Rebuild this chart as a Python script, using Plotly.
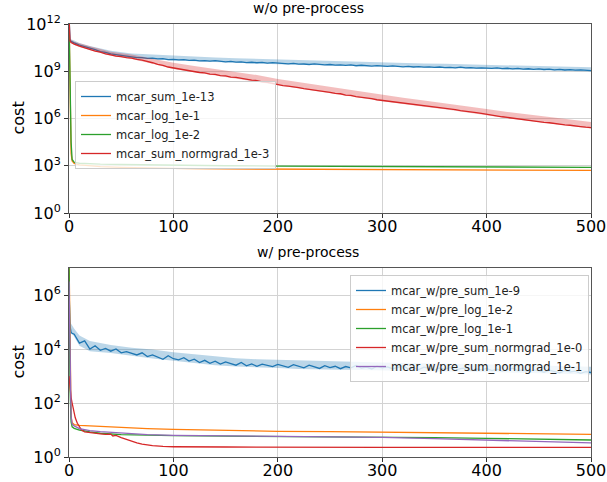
import plotly.graph_objects as go

# ---------------- data (log10 of cost) ----------------
# iterations for the dense, noisy runs
iters = [0, 1, 2, 3] + list(range(5, 501, 5))
# iterations where the mean +/- std bands are stored
band_iters = [0, 1, 5, 10] + list(range(20, 501, 20))
# iterations for the smooth runs
smooth_iters = [0, 1, 2, 3, 5, 10, 20, 30, 50, 75, 100, 150, 200, 250, 300, 350, 400, 450, 500]

# --- w/o pre-process ---
wo_sum_1e13 = [12.5, 10.95, 10.9, 10.86,
               10.80, 10.66, 10.58, 10.47, 10.38, 10.25, 10.2, 10.1, 10.06, 9.98, 9.95, 9.9, 9.86, 9.87, 9.82, 9.83, 9.78, 9.8, 9.74, 9.76,
               9.72, 9.74, 9.69, 9.71, 9.66, 9.68, 9.64, 9.67, 9.62, 9.6, 9.63, 9.58, 9.6, 9.55, 9.57, 9.54, 9.56, 9.52, 9.55, 9.51,
               9.5, 9.47, 9.5, 9.45, 9.46, 9.43, 9.47, 9.42, 9.4, 9.43, 9.39, 9.41, 9.37, 9.4, 9.35, 9.38, 9.36, 9.33, 9.36, 9.33,
               9.31, 9.34, 9.3, 9.28, 9.31, 9.27, 9.3, 9.26, 9.28, 9.24, 9.27, 9.23, 9.25, 9.22, 9.26, 9.21, 9.23, 9.2, 9.22, 9.2,
               9.18, 9.21, 9.17, 9.19, 9.15, 9.18, 9.14, 9.16, 9.12, 9.15, 9.11, 9.14, 9.09, 9.12, 9.08, 9.1, 9.07, 9.09, 9.05, 9.04]
wo_sum_1e13_hi = [12.6, 11.05, 10.95, 10.8, 10.6, 10.3, 10.12, 10.05, 9.98, 9.92, 9.88, 9.82, 9.78, 9.74,
                  9.7, 9.66, 9.63, 9.6, 9.57, 9.54, 9.5, 9.47, 9.44, 9.4, 9.38, 9.35, 9.32, 9.3, 9.25]
wo_sum_1e13_lo = [12.4, 10.9, 10.75, 10.6, 10.42, 10.05, 9.84, 9.76, 9.69, 9.64, 9.58, 9.53, 9.49, 9.45,
                  9.4, 9.36, 9.32, 9.29, 9.27, 9.23, 9.2, 9.18, 9.15, 9.13, 9.11, 9.08, 9.05, 9.03, 8.98]

wo_log_1e1 = [12.5, 7.0, 3.8, 3.3, 3.15, 3.05, 2.98, 2.94, 2.9, 2.86, 2.83, 2.8, 2.78, 2.77, 2.76, 2.74, 2.73, 2.71, 2.7]
wo_log_1e2 = [12.5, 8.0, 4.5, 3.4, 3.22, 3.16, 3.12, 3.1, 3.08, 3.05, 3.03, 3.0, 2.98, 2.97, 2.95, 2.94, 2.92, 2.91, 2.9]

wo_normgrad_1e3 = [12.5, 10.92, 10.82, 10.78,
                   10.72, 10.6, 10.48, 10.4, 10.28, 10.22, 10.1, 10.04, 9.96, 9.93, 9.86, 9.84, 9.75, 9.71, 9.6, 9.54, 9.44, 9.38, 9.27, 9.21,
                   9.14, 9.11, 9.02, 9.0, 8.92, 8.9, 8.82, 8.8, 8.72, 8.71, 8.63, 8.61, 8.54, 8.5, 8.44, 8.41, 8.32, 8.29, 8.21, 8.16,
                   8.09, 8.06, 7.99, 7.96, 7.9, 7.86, 7.8, 7.76, 7.7, 7.66, 7.59, 7.57, 7.49, 7.47, 7.39, 7.36, 7.29, 7.26, 7.19, 7.15,
                   7.07, 7.04, 6.99, 6.96, 6.91, 6.88, 6.83, 6.8, 6.75, 6.72, 6.67, 6.64, 6.59, 6.56, 6.5, 6.47, 6.41, 6.38, 6.32, 6.26,
                   6.19, 6.16, 6.11, 6.07, 6.02, 5.99, 5.94, 5.91, 5.85, 5.81, 5.76, 5.73, 5.67, 5.64, 5.59, 5.57, 5.51, 5.49, 5.45, 5.42]
wo_normgrad_1e3_hi = [12.6, 11.05, 10.88, 10.78, 10.58, 10.24, 10.06, 9.8, 9.54, 9.34, 9.15, 8.96, 8.76, 8.51,
                      8.31, 8.11, 7.92, 7.71, 7.5, 7.31, 7.15, 6.98, 6.81, 6.6, 6.42, 6.26, 6.08, 5.92, 5.78]
wo_normgrad_1e3_lo = [12.4, 10.85, 10.66, 10.54, 10.34, 9.98, 9.78, 9.48, 9.15, 8.94, 8.74, 8.55, 8.35, 8.1,
                      7.9, 7.7, 7.51, 7.3, 7.09, 6.9, 6.74, 6.58, 6.41, 6.2, 6.01, 5.85, 5.67, 5.51, 5.36]

# --- w/ pre-process ---
w_sum_1e9 = [6.3, 4.85, 4.62, 4.58,
             4.55, 4.22, 4.3, 4.0, 4.12, 3.95, 4.02, 3.92, 4.0, 3.86, 3.9, 3.84, 3.78, 3.86, 3.72, 3.78, 3.7, 3.62, 3.75, 3.64,
             3.6, 3.68, 3.55, 3.62, 3.5, 3.58, 3.47, 3.55, 3.44, 3.52, 3.46, 3.4, 3.5, 3.38, 3.45, 3.36, 3.44, 3.4, 3.35, 3.43,
             3.37, 3.32, 3.42, 3.36, 3.3, 3.4, 3.34, 3.28, 3.38, 3.31, 3.36, 3.27, 3.35, 3.3, 3.39, 3.29, 3.33, 3.26, 3.36, 3.3,
             3.34, 3.27, 3.32, 3.38, 3.26, 3.31, 3.24, 3.33, 3.28, 3.22, 3.3, 3.25, 3.32, 3.21, 3.27, 3.3, 3.2, 3.26, 3.23, 3.28,
             3.2, 3.25, 3.18, 3.24, 3.29, 3.19, 3.23, 3.16, 3.22, 3.2, 3.14, 3.22, 3.17, 3.12, 3.2, 3.15, 3.18, 3.1, 3.16, 3.13]
w_sum_1e9_hi = [6.5, 5.0, 4.75, 4.5, 4.3, 4.15, 4.05, 3.98, 3.88, 3.8, 3.72, 3.66, 3.62, 3.6,
                3.56, 3.55, 3.54, 3.52, 3.5, 3.48, 3.47, 3.46, 3.45, 3.44, 3.42, 3.4, 3.38, 3.36, 3.34]
w_sum_1e9_lo = [6.1, 4.7, 4.45, 4.12, 3.92, 3.85, 3.75, 3.65, 3.56, 3.48, 3.4, 3.35, 3.32, 3.3,
                3.26, 3.24, 3.23, 3.22, 3.22, 3.2, 3.18, 3.16, 3.16, 3.15, 3.13, 3.11, 3.09, 3.07, 3.06]

w_log_1e2 = [7.5, 3.0, 1.5, 1.27, 1.2, 1.17, 1.15, 1.13, 1.1, 1.05, 1.02, 0.98, 0.95, 0.94, 0.92, 0.9, 0.88, 0.86, 0.84]
w_log_1e1 = [7.5, 2.5, 1.3, 1.12, 1.06, 1.0, 0.93, 0.88, 0.83, 0.8, 0.79, 0.77, 0.76, 0.75, 0.74, 0.72, 0.69, 0.66, 0.63]
w_normgrad_1e1 = [6.5, 3.5, 1.5, 1.22, 1.15, 1.05, 0.98, 0.94, 0.88, 0.83, 0.8, 0.78, 0.76, 0.75, 0.73, 0.68, 0.62, 0.56, 0.52]

normgrad0_iters = [0, 1, 2, 3, 4, 5, 6, 8, 10, 12, 15, 20, 25, 30, 35, 40, 42, 45, 50, 55, 60, 65, 70, 75, 80, 90, 100,
                   150, 200, 300, 400, 500]
w_normgrad_1e0 = [3.0, 2.4, 2.2, 2.0, 1.8, 1.6, 1.45, 1.25, 1.1, 1.0, 0.93, 0.9, 0.88, 0.86, 0.84, 0.85, 0.78, 0.8, 0.72,
                  0.65, 0.58, 0.52, 0.48, 0.44, 0.42, 0.39, 0.38, 0.37, 0.36, 0.36, 0.36, 0.36]

# ---------------- styling ----------------
W, H = 607, 482
FONT = "DejaVu Sans"
C_BLUE, C_ORANGE, C_GREEN, C_RED, C_PURPLE = "#1f77b4", "#ff7f0e", "#2ca02c", "#d62728", "#9467bd"
LW = 1.3


def rgba(hex_color, a):
    h = hex_color.lstrip("#")
    return "rgba(%d,%d,%d,%.2f)" % (int(h[0:2], 16), int(h[2:4], 16), int(h[4:6], 16), a)


def lin(vals):
    return [10 ** v for v in vals]


fig = go.Figure()


def add_band(xs, hi, lo, color, xa, ya):
    fig.add_trace(go.Scatter(
        x=list(xs) + list(xs)[::-1], y=lin(hi) + lin(lo)[::-1],
        fill="toself", fillcolor=rgba(color, 0.3), line=dict(width=0),
        hoverinfo="skip", showlegend=False, xaxis=xa, yaxis=ya, mode="lines"))


def add_line(xs, ys, color, name, xa, ya, legend):
    fig.add_trace(go.Scatter(
        x=xs, y=lin(ys), mode="lines", name=name,
        line=dict(color=color, width=LW), xaxis=xa, yaxis=ya, legend=legend))


# top panel
add_line(iters, wo_sum_1e13, C_BLUE, "mcar_sum_1e-13", "x", "y", "legend")
add_band(band_iters, wo_sum_1e13_hi, wo_sum_1e13_lo, C_BLUE, "x", "y")
add_line(smooth_iters, wo_log_1e1, C_ORANGE, "mcar_log_1e-1", "x", "y", "legend")
add_line(smooth_iters, wo_log_1e2, C_GREEN, "mcar_log_1e-2", "x", "y", "legend")
add_line(iters, wo_normgrad_1e3, C_RED, "mcar_sum_normgrad_1e-3", "x", "y", "legend")
add_band(band_iters, wo_normgrad_1e3_hi, wo_normgrad_1e3_lo, C_RED, "x", "y")

# bottom panel
add_line(iters, w_sum_1e9, C_BLUE, "mcar_w/pre_sum_1e-9", "x2", "y2", "legend2")
add_band(band_iters, w_sum_1e9_hi, w_sum_1e9_lo, C_BLUE, "x2", "y2")
add_line(smooth_iters, w_log_1e2, C_ORANGE, "mcar_w/pre_log_1e-2", "x2", "y2", "legend2")
add_line(smooth_iters, w_log_1e1, C_GREEN, "mcar_w/pre_log_1e-1", "x2", "y2", "legend2")
add_line(normgrad0_iters, w_normgrad_1e0, C_RED, "mcar_w/pre_sum_normgrad_1e-0", "x2", "y2", "legend2")
add_line(smooth_iters, w_normgrad_1e1, C_PURPLE, "mcar_w/pre_sum_normgrad_1e-1", "x2", "y2", "legend2")

# ---------------- layout ----------------
x_dom = [69 / W, 591 / W]
top_dom = [1 - 213 / H, 1 - 24 / H]
bot_dom = [1 - 457 / H, 1 - 268 / H]

x_ticks = [0, 100, 200, 300, 400, 500]
top_exps = [0, 3, 6, 9, 12]
bot_exps = [0, 2, 4, 6]

common_x = dict(range=[0, 500], tickvals=x_ticks, ticktext=[str(t) for t in x_ticks],
                showgrid=True, gridcolor="#d3d3d3", gridwidth=1, zeroline=False,
                showline=True, mirror=True, linecolor="#555555", linewidth=1,
                ticks="outside", ticklen=4, tickcolor="#333333", automargin=False,
                ticklabelstandoff=-5,
                tickfont=dict(family=FONT, size=16, color="black"))


def y_axis(exps, top, dom, anchor):
    return dict(type="log", range=[0, top], domain=dom, anchor=anchor,
                tickvals=[10 ** e for e in exps],
                ticktext=["10<sup>%d</sup>" % e for e in exps],
                showgrid=True, gridcolor="#d3d3d3", gridwidth=1, zeroline=False,
                showline=True, mirror=True, linecolor="#555555", linewidth=1,
                ticks="outside", ticklen=4, tickcolor="#333333", automargin=False,
                tickfont=dict(family=FONT, size=16, color="black"))


legend_style = dict(bgcolor="rgba(255,255,255,0.8)", bordercolor="#cccccc", borderwidth=1,
                    font=dict(family=FONT, size=11.5, color="#222222"),
                    xanchor="left", yanchor="top", tracegroupgap=0)

fig.update_layout(
    width=W, height=H, margin=dict(l=0, r=0, t=0, b=0, autoexpand=False),
    paper_bgcolor="white", plot_bgcolor="white",
    font=dict(family=FONT, color="black"),
    xaxis=dict(domain=x_dom, anchor="y", **common_x),
    yaxis=y_axis(top_exps, 12, top_dom, "x"),
    xaxis2=dict(domain=x_dom, anchor="y2", **common_x),
    yaxis2=y_axis(bot_exps, 7, bot_dom, "x2"),
    legend=dict(x=75 / W, y=1 - 81 / H, **legend_style),
    legend2=dict(x=350 / W, y=1 - 275 / H, **legend_style),
    annotations=[
        dict(text="w/o pre-process", x=308 / W, y=1 - 8 / H, xref="paper", yref="paper",
             showarrow=False, font=dict(family=FONT, size=14, color="black"),
             xanchor="center", yanchor="middle"),
        dict(text="w/ pre-process", x=308 / W, y=1 - 252 / H, xref="paper", yref="paper",
             showarrow=False, font=dict(family=FONT, size=14, color="black"),
             xanchor="center", yanchor="middle"),
        dict(text="cost", x=18 / W, y=1 - 118.5 / H, xref="paper", yref="paper", textangle=-90,
             showarrow=False, font=dict(family=FONT, size=16, color="black"),
             xanchor="center", yanchor="middle"),
        dict(text="cost", x=18 / W, y=1 - 362.5 / H, xref="paper", yref="paper", textangle=-90,
             showarrow=False, font=dict(family=FONT, size=16, color="black"),
             xanchor="center", yanchor="middle"),
    ],
)

fig.write_html("out.html")
